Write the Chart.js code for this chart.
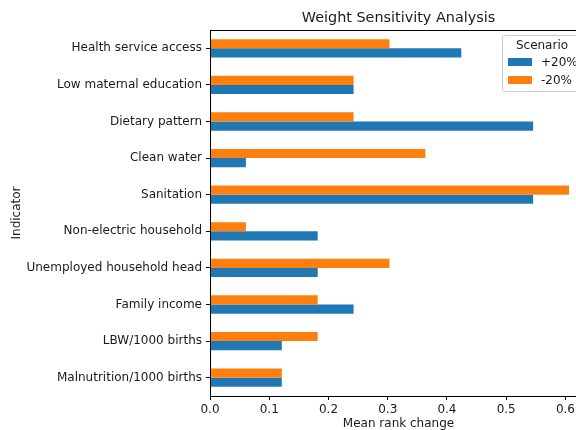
<!DOCTYPE html>
<html>
<head>
<meta charset="utf-8">
<style>
  html, body { margin: 0; padding: 0; background: #fff; overflow: hidden; width: 576px; height: 430px; }
  canvas { display: block; }
</style>
<script src="https://cdn.jsdelivr.net/npm/chart.js@4/dist/chart.umd.min.js"></script>
</head>
<body>
<canvas id="chart" width="600" height="430"></canvas>
<script>
// Indicators, listed top to bottom
const categories = [
  'Health service access',
  'Low maternal education',
  'Dietary pattern',
  'Clean water',
  'Sanitation',
  'Non-electric household',
  'Unemployed household head',
  'Family income',
  'LBW/1000 births',
  'Malnutrition/1000 births'
];
// Mean rank change when each weight is raised by 20%
const plus20 = [0.4242, 0.2424, 0.5455, 0.0606, 0.5455, 0.1818, 0.1818, 0.2424, 0.1212, 0.1212];
// Mean rank change when each weight is lowered by 20%
const minus20 = [0.3030, 0.2424, 0.2424, 0.3636, 0.6061, 0.0606, 0.3030, 0.1818, 0.1818, 0.1212];
const seriesLabels = ['+20%', '-20%'];
const xTicks = [0.0, 0.1, 0.2, 0.3, 0.4, 0.5, 0.6];

const BLUE = '#1f77b4';
const ORANGE = '#ff7f0e';
const FONT = "'DejaVu Sans', sans-serif";
const TEXT = '#1a1a1a';

// Axes frame, title and the framed legend in the upper right
const decorations = {
  id: 'decorations',
  afterDatasetsDraw(chart) {
    const { ctx, chartArea: a } = chart;
    ctx.save();
    ctx.strokeStyle = '#000';
    ctx.lineWidth = 1;
    ctx.strokeRect(a.left + 0.5, a.top + 0.5, a.right - a.left - 1, a.bottom - a.top);

    ctx.fillStyle = TEXT;
    ctx.font = '14.4px ' + FONT;
    ctx.textAlign = 'center';
    ctx.textBaseline = 'middle';
    ctx.fillText('Weight Sensitivity Analysis', (a.left + a.right) / 2, 18);

    // legend box
    const lx = 502, ly = 35, lw = 82, lh = 56;
    ctx.beginPath();
    ctx.roundRect(lx + 0.5, ly + 0.5, lw, lh, 2);
    ctx.fillStyle = 'rgba(255,255,255,0.8)';
    ctx.fill();
    ctx.strokeStyle = '#cccccc';
    ctx.stroke();
    ctx.fillStyle = TEXT;
    ctx.font = '12px ' + FONT;
    ctx.fillText('Scenario', 542, 45.5);
    // legend entries in series order: +20% then -20%
    const order = [1, 0];
    order.forEach((di, i) => {
      const ds = chart.data.datasets[di];
      const y = 58 + i * 18;
      ctx.fillStyle = ds.backgroundColor;
      ctx.fillRect(508, y, 24, 8);
      ctx.fillStyle = TEXT;
      ctx.textAlign = 'left';
      ctx.fillText(ds.label, 541, y + 4.5);
    });
    ctx.restore();
  }
};

new Chart(document.getElementById('chart'), {
  type: 'bar',
  data: {
    labels: categories,
    datasets: [
      { label: seriesLabels[1], data: minus20, backgroundColor: ORANGE, borderWidth: 0 },
      { label: seriesLabels[0], data: plus20, backgroundColor: BLUE, borderWidth: 0 }
    ]
  },
  options: {
    indexAxis: 'y',
    responsive: false,
    animation: false,
    devicePixelRatio: 1,
    layout: { padding: { top: 30, left: 10, right: 13, bottom: 0 } },
    datasets: { bar: { categoryPercentage: 0.5, barPercentage: 1.0 } },
    plugins: {
      legend: { display: false },
      title: { display: false },
      tooltip: { enabled: false }
    },
    scales: {
      x: {
        type: 'linear',
        min: 0,
        max: 0.6364,
        afterFit(scale) { scale.height = 34; },
        afterBuildTicks(scale) { scale.ticks = xTicks.map(v => ({ value: v })); },
        ticks: {
          color: TEXT,
          font: { family: FONT, size: 12 },
          padding: 3,
          maxRotation: 0,
          callback: v => Number(v).toFixed(1)
        },
        grid: { drawOnChartArea: false, drawTicks: true, tickLength: 4, color: '#000' },
        border: { display: true, color: '#000', width: 1 },
        title: {
          display: true, text: 'Mean rank change', color: TEXT,
          font: { family: FONT, size: 12 }, padding: { top: 0, bottom: -1 }
        }
      },
      y: {
        afterFit(scale) { scale.width = 200; },
        ticks: {
          color: TEXT,
          font: { family: FONT, size: 12 },
          padding: 4
        },
        grid: { offset: false, drawOnChartArea: false, drawTicks: true, tickLength: 4, color: '#000' },
        border: { display: true, color: '#000', width: 1 },
        title: {
          display: true, text: 'Indicator', color: TEXT,
          font: { family: FONT, size: 12 }, padding: { top: 0, bottom: 0 }
        }
      }
    }
  },
  plugins: [decorations]
});
</script>
</body>
</html>
